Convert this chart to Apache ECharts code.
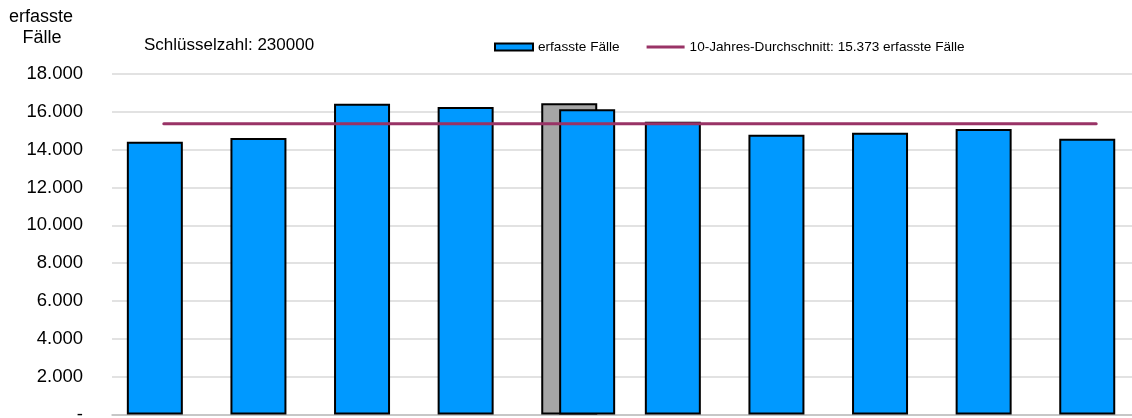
<!DOCTYPE html>
<html><head><meta charset="utf-8">
<script src="https://cdn.jsdelivr.net/npm/echarts@6/dist/echarts.min.js"></script>
<style>html,body{margin:0;padding:0;background:#fff}#c{width:1132px;height:418px}</style>
</head><body><div id="c"></div>
<script>
const categories = ['1','2','3','4','5','6','7','8','9','10'];
const mainValues = [14420, 14620, 16430, 16255, 16450, 15480, 14790, 14900, 15090, 14580];
const highlightIndex = 4;
const correctedValues = [null, null, null, null, 16130, null, null, null, null, null];
const averageValue = 15373;
const averageValues = categories.map(() => averageValue);
const yTicks = [0, 2000, 4000, 6000, 8000, 10000, 12000, 14000, 16000, 18000];

const FONT = 'Liberation Sans, Arial, sans-serif';
const fmt = v => v === 0 ? '-' : v.toLocaleString('de-DE');

const chart = echarts.init(document.getElementById('c'), null, {renderer: 'canvas'});
chart.setOption({
  animation: false,
  backgroundColor: '#ffffff',
  textStyle: {fontFamily: FONT},
  grid: {left: 112, top: 74, width: 1036, height: 340.5, containLabel: false, outerBoundsMode: 'none'},
  legend: {
    left: 494, top: 40, padding: 0,
    itemWidth: 38, itemHeight: 7, itemGap: 27, symbolKeepAspect: true,
    textStyle: {fontFamily: FONT, fontSize: 13.6, color: '#000'},
    data: [
      {name: 'erfasste Fälle', icon: 'rect'},
      {name: '10-Jahres-Durchschnitt: 15.373 erfasste Fälle', icon: 'path://M0,0H38V3H0Z',
       itemStyle: {color: '#993366', borderWidth: 0}}
    ]
  },
  graphic: [
    {type: 'text', x: 41, y: 8, style: {text: 'erfasste', font: '18px ' + FONT, fill: '#000', textAlign: 'center'}},
    {type: 'text', x: 42, y: 29, style: {text: 'Fälle', font: '18px ' + FONT, fill: '#000', textAlign: 'center'}},
    {type: 'text', left: 144, top: 37, style: {text: 'Schlüsselzahl: 230000', font: '17px ' + FONT, fill: '#000'}}
  ],
  xAxis: {
    type: 'category', data: categories, boundaryGap: true,
    axisLabel: {show: false}, axisTick: {show: false},
    axisLine: {lineStyle: {color: '#BFBFBF', width: 1.5}}
  },
  yAxis: {
    type: 'value', min: yTicks[0], max: yTicks[yTicks.length - 1], interval: 2000,
    axisLine: {show: false}, axisTick: {show: false},
    axisLabel: {formatter: fmt, margin: 29, fontSize: 18.5, color: '#000', fontFamily: FONT},
    splitLine: {lineStyle: {color: '#D9D9D9', width: 1.5}}
  },
  series: [
    {
      name: 'erfasste Fälle', type: 'bar', barWidth: 56, barGap: '-68%',
      itemStyle: {color: '#0099FF', borderColor: '#000', borderWidth: 2},
      data: mainValues.map((v, i) => i === highlightIndex
        ? {value: v, itemStyle: {color: '#A6A6A6', borderColor: '#000', borderWidth: 2}}
        : v)
    },
    {
      name: 'korrigiert', type: 'bar', barWidth: 56,
      itemStyle: {color: '#0099FF', borderColor: '#000', borderWidth: 2},
      data: correctedValues
    },
    {
      name: '10-Jahres-Durchschnitt: 15.373 erfasste Fälle', type: 'line',
      symbol: 'none', showSymbol: false, z: 5,
      lineStyle: {color: '#993366', width: 3, cap: 'round'},
      itemStyle: {color: '#993366'},
      data: averageValues
    }
  ]
});
</script></body></html>
